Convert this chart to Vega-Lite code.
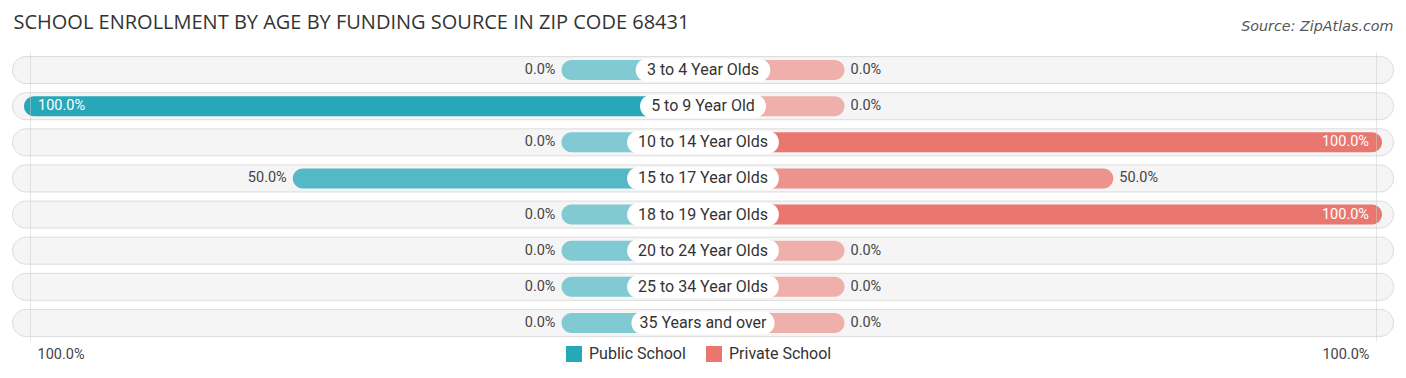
{
"$schema":"https://vega.github.io/schema/vega-lite/v6.json",
"width":1406,"height":289,
"autosize":{"type":"none"},
"padding":{"left":0,"right":0,"top":52,"bottom":37},
"background":"white",
"config":{"view":{"stroke":null},"font":"Roboto"},
"data":{"values":[
{"age":"3 to 4 Year Olds","public":0,"private":0},
{"age":"5 to 9 Year Old","public":1,"private":0},
{"age":"10 to 14 Year Olds","public":0,"private":1},
{"age":"15 to 17 Year Olds","public":0.5,"private":0.5},
{"age":"18 to 19 Year Olds","public":0,"private":1},
{"age":"20 to 24 Year Olds","public":0,"private":0},
{"age":"25 to 34 Year Olds","public":0,"private":0},
{"age":"35 Years and over","public":0,"private":0}
]},
"encoding":{"y":{"field":"age","type":"nominal","sort":null,"scale":{"paddingInner":0,"paddingOuter":0},
  "axis":{"title":"SCHOOL ENROLLMENT BY AGE BY FUNDING SOURCE IN ZIP CODE 68431","labels":false,"ticks":false,"domain":false,"grid":false,
  "titleAngle":0,"titleX":13,"titleY":-30,"titleAlign":"left","titleBaseline":"middle","titleFontSize":20,"titleFontWeight":"normal","titleColor":"#333333","titleFont":"Open Sans"}}},
"layer":[
 {"layer":[
  {"mark":{"type":"bar","size":27,"cornerRadius":13.5,"fill":"#f5f5f5","stroke":"#dcdcdc","strokeWidth":1},
   "encoding":{
    "x":{"datum":-1.5479,"type":"quantitative","scale":{"domain":[-1.57116,1.04465],"nice":false,"zero":false},
      "axis":{"orient":"top","values":[-1.5153,0.98884],"labels":false,"ticks":false,"domain":false,"grid":true,"gridColor":"#cccccc","gridOpacity":0.5,"zindex":1,
      "title":"Source: ZipAtlas.com","titleX":1393,"titleY":-26,"titleAlign":"right","titleAnchor":null,"titleBaseline":"middle","titleFontStyle":"italic","titleFontSize":14.3,"titleFont":"DejaVu Sans","titleFontWeight":"normal","titleColor":"#555555"}},
    "x2":{"datum":1.0214}}}
 ]},
 {"layer":[
  {"mark":{"type":"bar","size":20,"cornerRadius":10},
   "encoding":{
    "x":{"field":"public","type":"quantitative","scale":{"domain":[-1.57116,1.04465],"reverse":true,"nice":false,"zero":false},
      "axis":{"orient":"bottom","values":[1],"labelExpr":"'100.0%'","labelAlign":"left","labelOffset":13,"labelFlush":false,"labelPadding":6,"labelFontSize":14.5,"labelColor":"#444444","ticks":false,"tickSize":0,"domain":false,"grid":false,"title":null}},
    "x2":{"datum":-0.26326},
    "color":{"datum":"Public School","type":"nominal","scale":{"domain":["Public School","Private School"],"range":["#28a7b8","#e9776f"]},
      "legend":{"orient":"none","legendX":566,"legendY":294,"direction":"horizontal","title":null,"symbolType":"square","symbolSize":256,"symbolOpacity":1,"symbolStrokeWidth":0,"labelFontSize":16,"labelOffset":7,"columnPadding":20,"padding":0,"labelColor":"#333333"}},
    "opacity":{"field":"public","type":"quantitative","scale":{"domain":[0,1],"range":[0.56,1]},"legend":null}}},
  {"transform":[{"filter":"datum.public < 1"}],
   "mark":{"type":"text","align":"right","dx":-6,"fontSize":14.5,"color":"#444444","baseline":"middle"},
   "encoding":{"x":{"field":"public","type":"quantitative"},"text":{"field":"public","type":"quantitative","format":".1%"}}},
  {"transform":[{"filter":"datum.public >= 1"}],
   "mark":{"type":"text","align":"left","dx":14,"fontSize":14.5,"color":"#ffffff","baseline":"middle"},
   "encoding":{"x":{"field":"public","type":"quantitative"},"text":{"field":"public","type":"quantitative","format":".1%"}}}
 ]},
 {"layer":[
  {"mark":{"type":"bar","size":20,"cornerRadius":10},
   "encoding":{
    "x":{"field":"private","type":"quantitative","scale":{"domain":[-1.57116,1.04465],"nice":false,"zero":false},
      "axis":{"orient":"bottom","values":[1],"labelExpr":"'100.0%'","labelAlign":"right","labelOffset":-13,"labelFlush":false,"labelPadding":6,"labelFontSize":14.5,"labelColor":"#444444","ticks":false,"tickSize":0,"domain":false,"grid":false,"title":null}},
    "x2":{"datum":-0.26326},
    "color":{"datum":"Private School","type":"nominal"},
    "opacity":{"field":"private","type":"quantitative","scale":{"domain":[0,1],"range":[0.56,1]},"legend":null}}},
  {"transform":[{"filter":"datum.private < 1"}],
   "mark":{"type":"text","align":"left","dx":6,"fontSize":14.5,"color":"#444444","baseline":"middle"},
   "encoding":{"x":{"field":"private","type":"quantitative"},"text":{"field":"private","type":"quantitative","format":".1%"}}},
  {"transform":[{"filter":"datum.private >= 1"}],
   "mark":{"type":"text","align":"right","dx":-13,"fontSize":14.5,"color":"#ffffff","baseline":"middle"},
   "encoding":{"x":{"field":"private","type":"quantitative"},"text":{"field":"private","type":"quantitative","format":".1%"}}}
 ]},
 {"transform":[{"calculate":"(length(datum.age)*4.3 - 1.5)/537.5","as":"hw"},{"calculate":"-0.26326 - datum.hw","as":"bx"},{"calculate":"-0.26326 + datum.hw","as":"bx2"}],
  "layer":[
  {"mark":{"type":"bar","size":23,"cornerRadius":11.5,"fill":"#ffffff"},
   "encoding":{"x":{"field":"bx","type":"quantitative","scale":{"domain":[-1.57116,1.04465],"nice":false,"zero":false},"axis":null},"x2":{"field":"bx2"}}},
  {"mark":{"type":"text","align":"center","baseline":"middle","fontSize":16,"color":"#333333"},
   "encoding":{"x":{"datum":-0.26326,"type":"quantitative"},"text":{"field":"age","type":"nominal"}}}
 ]}
],
"resolve":{"scale":{"x":"independent"},"axis":{"x":"independent"}}
}
